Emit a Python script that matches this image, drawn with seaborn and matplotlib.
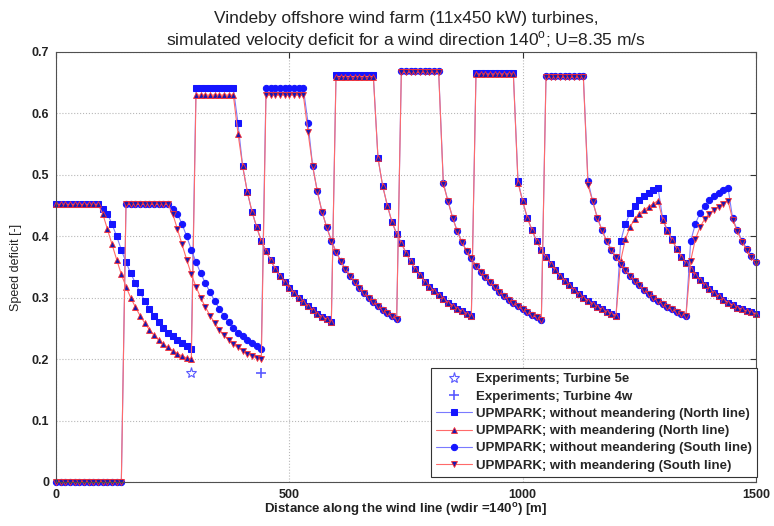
import matplotlib
matplotlib.use("Agg")
import matplotlib.pyplot as plt
import seaborn as sns

# distance along the wind line [m], one sample every 10 m
distance = list(range(0, 1510, 10))

# speed deficit, one row per 100 m
north_without = [
    0.452, 0.452, 0.452, 0.452, 0.452, 0.452, 0.452, 0.452, 0.452, 0.452,
    0.445, 0.437, 0.420, 0.400, 0.378, 0.358, 0.340, 0.324, 0.309, 0.295,
    0.282, 0.270, 0.260, 0.251, 0.243, 0.237, 0.231, 0.226, 0.221, 0.217,
    0.641, 0.641, 0.641, 0.641, 0.641, 0.641, 0.641, 0.641, 0.641, 0.584,
    0.514, 0.472, 0.440, 0.415, 0.392, 0.376, 0.361, 0.347, 0.335, 0.325,
    0.316, 0.308, 0.300, 0.293, 0.286, 0.280, 0.274, 0.269, 0.265, 0.261,
    0.662, 0.662, 0.662, 0.662, 0.662, 0.662, 0.662, 0.662, 0.662, 0.527,
    0.482, 0.450, 0.423, 0.404, 0.389, 0.373, 0.359, 0.346, 0.337, 0.326,
    0.318, 0.311, 0.304, 0.298, 0.292, 0.287, 0.282, 0.278, 0.274, 0.270,
    0.666, 0.666, 0.666, 0.666, 0.666, 0.666, 0.666, 0.666, 0.666, 0.490,
    0.457, 0.430, 0.410, 0.392, 0.378, 0.366, 0.355, 0.345, 0.336, 0.328,
    0.320, 0.313, 0.306, 0.300, 0.295, 0.290, 0.285, 0.281, 0.277, 0.274,
    0.271, 0.392, 0.420, 0.438, 0.450, 0.459, 0.466, 0.470, 0.475, 0.479,
    0.429, 0.410, 0.395, 0.380, 0.367, 0.356, 0.346, 0.337, 0.329, 0.321,
    0.314, 0.308, 0.302, 0.297, 0.292, 0.288, 0.284, 0.281, 0.278, 0.276,
    0.274,
]

north_with = [
    0.452, 0.452, 0.452, 0.452, 0.452, 0.452, 0.452, 0.452, 0.452, 0.452,
    0.437, 0.412, 0.387, 0.362, 0.338, 0.318, 0.300, 0.285, 0.271, 0.259,
    0.248, 0.239, 0.231, 0.224, 0.219, 0.214, 0.209, 0.205, 0.202, 0.200,
    0.630, 0.630, 0.630, 0.630, 0.630, 0.630, 0.630, 0.630, 0.630, 0.567,
    0.514, 0.472, 0.440, 0.415, 0.392, 0.376, 0.361, 0.347, 0.335, 0.325,
    0.316, 0.308, 0.300, 0.293, 0.286, 0.280, 0.274, 0.269, 0.265, 0.261,
    0.660, 0.660, 0.660, 0.660, 0.660, 0.660, 0.660, 0.660, 0.660, 0.527,
    0.482, 0.450, 0.423, 0.404, 0.389, 0.373, 0.359, 0.346, 0.337, 0.326,
    0.318, 0.311, 0.304, 0.298, 0.292, 0.287, 0.282, 0.278, 0.274, 0.270,
    0.664, 0.664, 0.664, 0.664, 0.664, 0.664, 0.664, 0.664, 0.664, 0.487,
    0.457, 0.430, 0.410, 0.392, 0.378, 0.366, 0.355, 0.345, 0.336, 0.328,
    0.320, 0.313, 0.306, 0.300, 0.295, 0.290, 0.285, 0.281, 0.277, 0.274,
    0.271, 0.360, 0.395, 0.415, 0.428, 0.437, 0.443, 0.448, 0.453, 0.458,
    0.427, 0.409, 0.394, 0.380, 0.367, 0.356, 0.346, 0.337, 0.329, 0.321,
    0.314, 0.308, 0.302, 0.297, 0.292, 0.288, 0.284, 0.281, 0.278, 0.276,
    0.274,
]

south_without = [
    0.0, 0.0, 0.0, 0.0, 0.0, 0.0, 0.0, 0.0, 0.0, 0.0,
    0.0, 0.0, 0.0, 0.0, 0.0, 0.452, 0.452, 0.452, 0.452, 0.452,
    0.452, 0.452, 0.452, 0.452, 0.452, 0.445, 0.437, 0.420, 0.400, 0.378,
    0.358, 0.340, 0.324, 0.309, 0.295, 0.282, 0.270, 0.260, 0.251, 0.243,
    0.237, 0.231, 0.226, 0.221, 0.217, 0.641, 0.641, 0.641, 0.641, 0.641,
    0.641, 0.641, 0.641, 0.641, 0.585, 0.514, 0.473, 0.440, 0.415, 0.393,
    0.375, 0.360, 0.347, 0.336, 0.325, 0.316, 0.308, 0.300, 0.293, 0.286,
    0.280, 0.275, 0.270, 0.265, 0.669, 0.669, 0.669, 0.669, 0.669, 0.669,
    0.669, 0.669, 0.669, 0.487, 0.457, 0.430, 0.408, 0.390, 0.376, 0.364,
    0.352, 0.342, 0.333, 0.325, 0.317, 0.310, 0.303, 0.297, 0.291, 0.286,
    0.281, 0.276, 0.272, 0.268, 0.264, 0.661, 0.661, 0.661, 0.661, 0.661,
    0.661, 0.661, 0.661, 0.661, 0.490, 0.457, 0.430, 0.410, 0.392, 0.378,
    0.366, 0.355, 0.345, 0.336, 0.328, 0.320, 0.313, 0.306, 0.300, 0.295,
    0.290, 0.285, 0.281, 0.277, 0.274, 0.271, 0.392, 0.420, 0.438, 0.450,
    0.459, 0.466, 0.470, 0.475, 0.479, 0.429, 0.410, 0.393, 0.380, 0.368,
    0.358,
]

south_with = [
    0.0, 0.0, 0.0, 0.0, 0.0, 0.0, 0.0, 0.0, 0.0, 0.0,
    0.0, 0.0, 0.0, 0.0, 0.0, 0.452, 0.452, 0.452, 0.452, 0.452,
    0.452, 0.452, 0.452, 0.452, 0.452, 0.437, 0.412, 0.387, 0.362, 0.338,
    0.318, 0.300, 0.285, 0.271, 0.259, 0.248, 0.239, 0.231, 0.224, 0.219,
    0.214, 0.209, 0.205, 0.202, 0.200, 0.630, 0.630, 0.630, 0.630, 0.630,
    0.630, 0.630, 0.630, 0.630, 0.570, 0.514, 0.473, 0.440, 0.415, 0.393,
    0.375, 0.360, 0.347, 0.336, 0.325, 0.316, 0.308, 0.300, 0.293, 0.286,
    0.280, 0.275, 0.270, 0.265, 0.667, 0.667, 0.667, 0.667, 0.667, 0.667,
    0.667, 0.667, 0.667, 0.485, 0.457, 0.430, 0.408, 0.390, 0.376, 0.364,
    0.352, 0.342, 0.333, 0.325, 0.317, 0.310, 0.303, 0.297, 0.291, 0.286,
    0.281, 0.276, 0.272, 0.268, 0.264, 0.659, 0.659, 0.659, 0.659, 0.659,
    0.659, 0.659, 0.659, 0.659, 0.483, 0.457, 0.430, 0.410, 0.392, 0.378,
    0.366, 0.355, 0.345, 0.336, 0.328, 0.320, 0.313, 0.306, 0.300, 0.295,
    0.290, 0.285, 0.281, 0.277, 0.274, 0.271, 0.360, 0.395, 0.415, 0.428,
    0.437, 0.443, 0.448, 0.453, 0.458, 0.427, 0.408, 0.391, 0.378, 0.366,
    0.356,
]

# measured deficits
exp_5e_x = [290]
exp_5e_y = [0.177]
exp_4w_x = [440]
exp_4w_y = [0.177]

sns.set_style("white")
plt.rcParams["font.family"] = ["Liberation Sans", "DejaVu Sans"]
plt.rcParams["mathtext.fontset"] = "custom"
plt.rcParams["mathtext.rm"] = "Liberation Sans"
plt.rcParams["mathtext.bf"] = "Liberation Sans:bold"

fig = plt.figure(figsize=(7.74, 5.26), dpi=100)
ax = fig.add_axes([56 / 774, 1 - 482 / 526, 700 / 774, 430 / 526])

blue_line = "#7a7aff"
red_line = "#ff6a6a"
exp_color = "#5a5aff"

# experiments, markers only
sns.lineplot(x=exp_5e_x, y=exp_5e_y, ax=ax, linestyle="none", marker="*",
             markersize=8, markerfacecolor="none", markeredgecolor=exp_color,
             markeredgewidth=0.8, color=exp_color,
             label="Experiments; Turbine 5e")
sns.lineplot(x=exp_4w_x, y=exp_4w_y, ax=ax, linestyle="none", marker="+",
             markersize=7, markeredgewidth=1.2, color=exp_color,
             markeredgecolor=exp_color, label="Experiments; Turbine 4w")

# UPMPARK runs
sns.lineplot(x=distance, y=north_without, ax=ax, color=blue_line, linewidth=0.8,
             marker="s", markersize=4, markerfacecolor="#1515ff",
             markeredgecolor="#1515ff", clip_on=False, errorbar=None,
             label="UPMPARK; without meandering (North line)")
sns.lineplot(x=distance, y=north_with, ax=ax, color=red_line, linewidth=0.8,
             marker="^", markersize=4.5, markerfacecolor="#1a1ab0",
             markeredgecolor="#ff3030", markeredgewidth=0.6, clip_on=False,
             errorbar=None, label="UPMPARK; with meandering (North line)")
sns.lineplot(x=distance, y=south_without, ax=ax, color=blue_line, linewidth=0.8,
             marker="o", markersize=4.5, markerfacecolor="#1515ff",
             markeredgecolor="#1515ff", clip_on=False, errorbar=None,
             label="UPMPARK; without meandering (South line)")
sns.lineplot(x=distance, y=south_with, ax=ax, color=red_line, linewidth=0.8,
             marker="v", markersize=4.5, markerfacecolor="#1a1ab0",
             markeredgecolor="#ff3030", markeredgewidth=0.6, clip_on=False,
             errorbar=None, label="UPMPARK; with meandering (South line)")

ax.set_xlim(0, 1500)
ax.set_ylim(0, 0.7)
ax.set_xticks([0, 500, 1000, 1500])
ax.set_xticklabels(["0", "500", "1000", "1500"])
ax.set_yticks([0, 0.1, 0.2, 0.3, 0.4, 0.5, 0.6, 0.7])
ax.set_yticklabels(["0", "0.1", "0.2", "0.3", "0.4", "0.5", "0.6", "0.7"])
ax.tick_params(direction="in", length=4, width=0.8, top=True, right=True,
               labelsize=9, pad=5, colors="#303030", labelcolor="#222222")
for lab in ax.get_xticklabels() + ax.get_yticklabels():
    lab.set_fontweight("bold")
ax.grid(True, linestyle=":", color="#b8b8b8", linewidth=0.8)
for sp in ax.spines.values():
    sp.set_color("#505050")
    sp.set_linewidth(0.8)

ax.set_title("Vindeby offshore wind farm (11x450 kW) turbines,\n"
             "simulated velocity deficit for a wind direction 140$^{\\mathrm{o}}$; U=8.35 m/s",
             fontsize=12.5, color="#222222", pad=5)
ax.set_xlabel("Distance along the wind line (wdir =140$^{\\mathbf{o}}$) [m]",
              fontsize=9.5, fontweight="bold", color="#222222", labelpad=0)
ax.set_ylabel("Speed deficit [-]", fontsize=9, color="#222222", labelpad=7)

leg = ax.legend(loc="lower right", bbox_to_anchor=(1.0 + 1 / 700, 5 / 430),
                borderaxespad=0, prop={"weight": "bold", "size": 9.5},
                handlelength=2.7, handletextpad=0.3, labelspacing=0.38,
                fancybox=False, framealpha=1, edgecolor="#333333",
                borderpad=0.4)
leg.get_frame().set_linewidth(0.8)

fig.savefig("out.png", dpi=100)
